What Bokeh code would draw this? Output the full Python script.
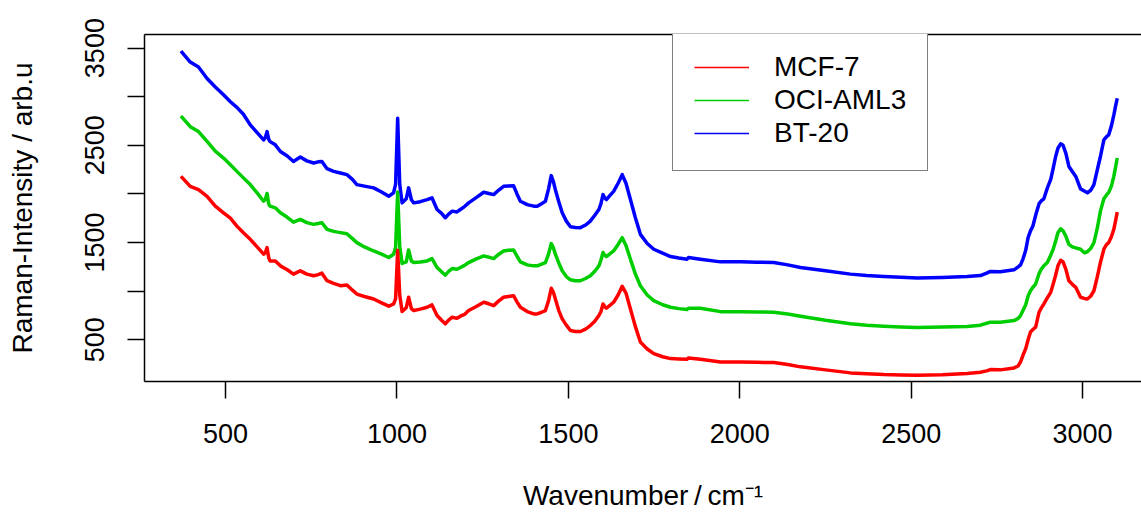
from bokeh.plotting import figure
from bokeh.models import Range1d, FixedTicker, LinearAxis, Legend, LegendItem, ColumnDataSource
from bokeh.embed import file_html
from bokeh.resources import INLINE

# ---------------- data ----------------
wavenumber = [370, 397, 421, 446, 470, 494, 514, 533, 552, 572, 592, 611, 616, 621, 626, 630,
              645, 660, 680, 698, 718, 737, 757, 770, 781, 796, 815, 835, 854, 870, 883, 905,
              932, 955, 976, 990, 996, 1002, 1008, 1015, 1027, 1034, 1042, 1049, 1068, 1088,
              1102, 1117, 1130, 1141, 1150, 1161, 1175, 1185, 1197, 1209, 1230, 1253, 1268,
              1282, 1297, 1311, 1325, 1340, 1350, 1360, 1380, 1399, 1409, 1420, 1433, 1442,
              1450, 1456, 1462, 1472, 1482, 1494, 1506, 1520, 1535, 1550, 1564, 1577, 1589,
              1595, 1601, 1606, 1611, 1620, 1632, 1645, 1657, 1668, 1681, 1695, 1710, 1730,
              1749, 1775, 1798, 1822, 1846, 1850, 1885, 1944, 2002, 2050, 2099, 2140, 2177,
              2250, 2323, 2370, 2420, 2470, 2518, 2590, 2663, 2702, 2720, 2731, 2760, 2800,
              2812, 2819, 2826, 2834, 2841, 2848, 2855, 2863, 2873, 2880, 2887, 2897, 2907,
              2914, 2921, 2928, 2936, 2943, 2951, 2960, 2970, 2980, 2994, 3005, 3014, 3024,
              3033, 3043, 3052, 3062, 3070, 3076, 3084, 3091, 3096, 3101]

mcf7 = [2181, 2078, 2044, 1975, 1875, 1806, 1750, 1669, 1600, 1533, 1455, 1380, 1395, 1448, 1340, 1311,
        1311, 1260, 1220, 1175, 1209, 1175, 1158, 1170, 1185, 1107, 1080, 1056, 1063, 1010, 970, 945,
        919, 880, 845, 868, 920, 1420, 960, 790, 830, 937, 820, 800, 815, 834,
        858, 749, 700, 664, 700, 732, 720, 742, 760, 800, 840, 886, 870,
        851, 900, 937, 945, 953, 890, 834, 790, 766, 766, 780, 800, 900,
        1029, 990, 919, 800, 715, 650, 595, 585, 585, 610, 646, 690, 749,
        790, 868, 840, 824, 850, 886, 960, 1049, 980, 817, 640, 476, 405,
        357, 325, 306, 302, 299, 313, 299, 272, 272, 268, 265, 245, 221,
        190, 159, 150, 142, 138, 135, 140, 152, 166, 180, 193, 190, 210,
        230, 272, 340, 408, 500, 579, 605, 630, 783, 830, 868, 930, 988,
        1070, 1158, 1260, 1318, 1300, 1226, 1107, 1070, 1039, 937, 925, 919, 950,
        1004, 1150, 1295, 1431, 1480, 1499, 1560, 1635, 1720, 1812]

oci_aml3 = [2801, 2692, 2641, 2540, 2440, 2369, 2300, 2232, 2165, 2096, 2010, 1925, 1945, 2004, 1895, 1874,
            1857, 1806, 1760, 1710, 1738, 1705, 1687, 1695, 1704, 1635, 1615, 1602, 1590, 1540, 1499, 1455,
            1413, 1380, 1346, 1380, 1450, 2020, 1460, 1285, 1300, 1424, 1310, 1294, 1300, 1311,
            1335, 1243, 1200, 1165, 1200, 1233, 1225, 1243, 1265, 1294, 1330, 1362, 1350,
            1335, 1380, 1413, 1420, 1424, 1360, 1300, 1270, 1260, 1260, 1275, 1294, 1380,
            1489, 1450, 1380, 1290, 1209, 1150, 1117, 1107, 1107, 1130, 1158, 1205, 1260,
            1320, 1397, 1370, 1356, 1380, 1413, 1480, 1550, 1470, 1328, 1180, 1056, 960,
            902, 860, 834, 820, 810, 824, 824, 789, 789, 786, 783, 765, 742,
            700, 664, 650, 640, 632, 626, 630, 636, 650, 670, 681, 681, 697,
            720, 749, 800, 860, 950, 1004, 1040, 1073, 1180, 1230, 1260, 1294, 1370,
            1430, 1510, 1600, 1642, 1620, 1567, 1482, 1455, 1445, 1431, 1395, 1405, 1440,
            1499, 1650, 1823, 1950, 1990, 2015, 2080, 2181, 2270, 2369]

bt20 = [3469, 3357, 3306, 3187, 3100, 3020, 2948, 2890, 2820, 2710, 2630, 2556, 2580, 2641, 2560, 2538,
        2505, 2436, 2390, 2334, 2379, 2340, 2318, 2330, 2334, 2260, 2232, 2215, 2198, 2150, 2096, 2080,
        2062, 2020, 1976, 2011, 2100, 2778, 2100, 1908, 1950, 2062, 1940, 1908, 1920, 1942,
        1960, 1840, 1800, 1755, 1790, 1823, 1815, 1840, 1870, 1908, 1960, 2017, 2005,
        1993, 2040, 2078, 2082, 2085, 2000, 1925, 1890, 1874, 1874, 1895, 1925, 2050,
        2188, 2130, 2044, 1920, 1806, 1720, 1663, 1655, 1653, 1680, 1720, 1780, 1840,
        1900, 1993, 1960, 1942, 1980, 2027, 2110, 2198, 2110, 1942, 1760, 1584, 1490,
        1431, 1390, 1356, 1340, 1328, 1345, 1328, 1301, 1301, 1298, 1294, 1270, 1243,
        1210, 1175, 1160, 1151, 1143, 1134, 1140, 1151, 1160, 1185, 1203, 1200, 1219,
        1250, 1270, 1330, 1420, 1550, 1620, 1670, 1780, 1900, 1930, 1950, 2060, 2150,
        2260, 2380, 2470, 2515, 2500, 2420, 2283, 2230, 2180, 2052, 2030, 2011, 2040,
        2096, 2250, 2385, 2556, 2590, 2607, 2700, 2811, 2900, 2982]

series_names = ["MCF-7", "OCI-AML3", "BT-20"]
series_colors = ["#FF0000", "#00CD00", "#0000FF"]
x_ticks = [500, 1000, 1500, 2000, 2500, 3000]
y_ticks = [500, 1000, 1500, 2000, 2500, 3000, 3500]
y_tick_labels = {500: "500", 1000: "", 1500: "1500", 2000: "", 2500: "2500", 3000: "", 3500: "3500"}
x_title = "Wavenumber\u2009/\u2009cm\u207B\u00B9"
y_title = "Raman-Intensity / arb.u"

FONT = "Liberation Sans"

source = ColumnDataSource(dict(w=wavenumber, mcf7=mcf7, oci=oci_aml3, bt20=bt20))
cols = ["mcf7", "oci", "bt20"]

p = figure(width=1141, height=513, output_backend="svg", toolbar_location=None,
           x_range=Range1d(263.5, 3171.8), y_range=Range1d(70.4, 3640),
           min_border_left=144, min_border_right=0, min_border_top=34, min_border_bottom=130,
           x_axis_label=x_title, y_axis_label=y_title)
p.outline_line_color = None
p.background_fill_color = "white"
p.border_fill_color = "white"
p.xgrid.visible = False
p.ygrid.visible = False

# thin lines (used as legend glyphs), hidden underneath the thick data lines
legend_rs = [p.line("w", c, source=source, line_color=col, line_width=1.5)
             for c, col in zip(cols, series_colors)]

# data lines (blue under green under red)
for c, col in reversed(list(zip(cols, series_colors))):
    p.line("w", c, source=source, line_color=col, line_width=3.5, line_join="round")

for ax in (p.xaxis[0], p.yaxis[0]):
    ax.axis_line_color = "black"
    ax.axis_line_width = 1.5
    ax.major_tick_line_color = "black"
    ax.major_tick_line_width = 1.5
    ax.major_tick_out = 17
    ax.major_tick_in = 0
    ax.minor_tick_out = 0
    ax.minor_tick_in = 0
    ax.major_label_text_font = FONT
    ax.major_label_text_font_size = "27px"
    ax.major_label_text_color = "black"
    ax.axis_label_text_font = FONT
    ax.axis_label_text_font_size = "28px"
    ax.axis_label_text_font_style = "normal"
    ax.axis_label_text_color = "black"

p.xaxis[0].ticker = FixedTicker(ticks=x_ticks)
p.xaxis[0].major_label_standoff = 25
p.xaxis[0].axis_label_standoff = 34

p.yaxis[0].ticker = FixedTicker(ticks=y_ticks)
p.yaxis[0].major_label_overrides = y_tick_labels
p.yaxis[0].major_label_orientation = "vertical"
p.yaxis[0].major_label_standoff = 23
p.yaxis[0].axis_label_standoff = 45

# top border line of the plot box
top = LinearAxis(ticker=FixedTicker(ticks=[]), major_label_text_font_size="0px",
                 major_tick_out=0, major_tick_in=0, minor_tick_out=0, minor_tick_in=0,
                 axis_line_color="black", axis_line_width=1.5)
p.add_layout(top, "above")

legend = Legend(items=[LegendItem(label=n, renderers=[r]) for n, r in zip(series_names, legend_rs)],
                location=(528, 210), padding=21, spacing=1, glyph_width=55, glyph_height=32,
                label_height=32, label_standoff=25, label_text_font=FONT, label_text_font_size="28px",
                label_text_color="black", border_line_color="black", border_line_width=1.5,
                background_fill_color="white", background_fill_alpha=1.0, margin=0)
p.add_layout(legend)

open("out.html", "w").write(file_html(p, INLINE))
